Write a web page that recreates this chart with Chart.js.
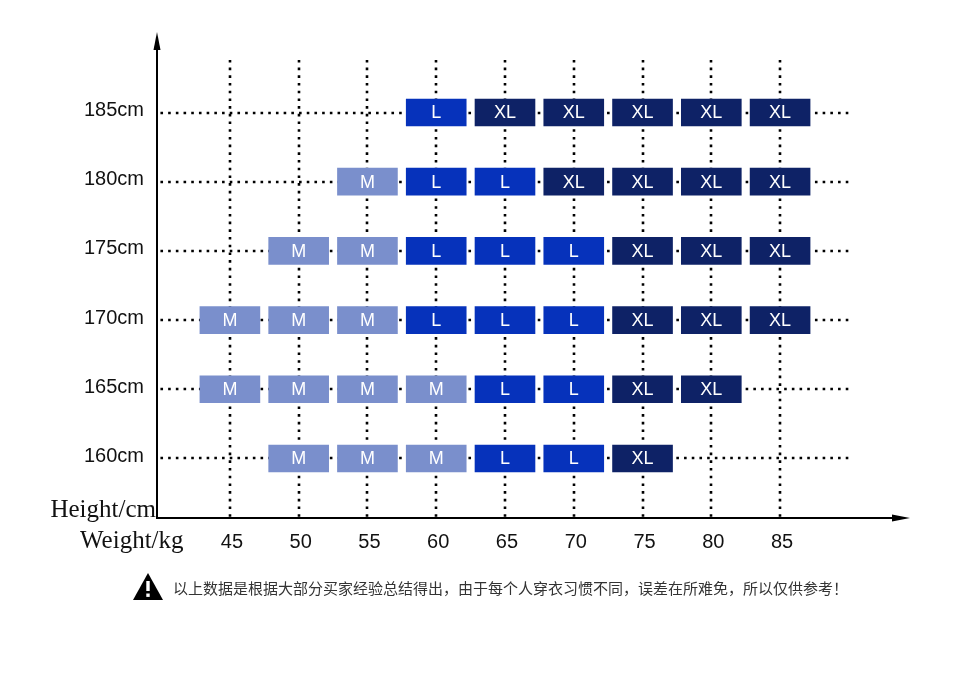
<!DOCTYPE html>
<html>
<head>
<meta charset="utf-8">
<script src="https://cdn.jsdelivr.net/npm/chart.js@4/dist/chart.umd.min.js"></script>
<style>
  html, body { margin: 0; padding: 0; background: #fff; }
  #wrap { width: 960px; height: 696px; }
</style>
</head>
<body>
<div id="wrap"><canvas id="chart" width="960" height="696"></canvas></div>
<script>
// weights (kg) along x, heights (cm) along y
const weights = [45, 50, 55, 60, 65, 70, 75, 80, 85];
const heights = [160, 165, 170, 175, 180, 185];

// size per weight column, one list per height row ('' = no box)
const row160 = ['',  'M', 'M', 'M', 'L', 'L', 'XL', '',   ''];
const row165 = ['M', 'M', 'M', 'M', 'L', 'L', 'XL', 'XL', ''];
const row170 = ['M', 'M', 'M', 'L', 'L', 'L', 'XL', 'XL', 'XL'];
const row175 = ['',  'M', 'M', 'L', 'L', 'L', 'XL', 'XL', 'XL'];
const row180 = ['',  '',  'M', 'L', 'L', 'XL', 'XL', 'XL', 'XL'];
const row185 = ['',  '',  '',  'L', 'XL', 'XL', 'XL', 'XL', 'XL'];
const rows = [row160, row165, row170, row175, row180, row185];

const sizes = ['M', 'L', 'XL'];
const sizeColors = ['#7a8fcc', '#0632bb', '#0e2266'];

const footNote = '以上数据是根据大部分买家经验总结得出，由于每个人穿衣习惯不同，误差在所难免，所以仅供参考！';

const HALF_BOX = 2.18; // half box width in kg units

function buildData(size) {
  const out = [];
  rows.forEach((row, r) => {
    row.forEach((s, c) => {
      if (s === size) out.push({ x: [weights[c] - HALF_BOX, weights[c] + HALF_BOX], y: heights[r] });
    });
  });
  return out;
}

const datasets = sizes.map((s, i) => ({
  label: s,
  data: buildData(s),
  backgroundColor: sizeColors[i],
  borderWidth: 0,
  barThickness: 27,
  grouped: false
}));

const dottedGrid = {
  id: 'dottedGrid',
  beforeDatasetsDraw(chart) {
    const { ctx, scales: { x, y }, chartArea } = chart;
    ctx.save();
    ctx.strokeStyle = '#000';
    ctx.lineWidth = 2.6;
    ctx.setLineDash([2.6, 5.1]);
    weights.forEach(w => {
      const px = Math.round(x.getPixelForValue(w));
      ctx.beginPath();
      ctx.moveTo(px, y.getPixelForValue(188.8));
      ctx.lineTo(px, chartArea.bottom);
      ctx.stroke();
    });
    heights.forEach(h => {
      const py = Math.round(y.getPixelForValue(h));
      ctx.beginPath();
      ctx.moveTo(x.getPixelForValue(39.95), py);
      ctx.lineTo(x.getPixelForValue(90), py);
      ctx.stroke();
    });
    ctx.restore();
  }
};

const boxLabels = {
  id: 'boxLabels',
  afterDatasetsDraw(chart) {
    const { ctx } = chart;
    ctx.save();
    ctx.fillStyle = '#fff';
    ctx.font = '18px "Liberation Sans", Arial, sans-serif';
    ctx.textAlign = 'center';
    ctx.textBaseline = 'middle';
    chart.data.datasets.forEach((ds, i) => {
      chart.getDatasetMeta(i).data.forEach(el => {
        const p = el.getCenterPoint();
        ctx.fillText(ds.label, p.x, p.y + 1);
      });
    });
    ctx.restore();
  }
};

const axesAndNotes = {
  id: 'axesAndNotes',
  afterDraw(chart) {
    const { ctx, chartArea: a } = chart;
    ctx.save();
    ctx.strokeStyle = '#000';
    ctx.fillStyle = '#000';
    ctx.lineWidth = 2;
    // y axis with arrow
    ctx.beginPath();
    ctx.moveTo(a.left, a.bottom);
    ctx.lineTo(a.left, a.top + 4);
    ctx.stroke();
    ctx.beginPath();
    ctx.moveTo(a.left, a.top - 3);
    ctx.lineTo(a.left - 3.5, a.top + 15);
    ctx.lineTo(a.left + 3.5, a.top + 15);
    ctx.closePath();
    ctx.fill();
    // x axis with arrow
    ctx.beginPath();
    ctx.moveTo(a.left - 1, a.bottom);
    ctx.lineTo(a.right - 4, a.bottom);
    ctx.stroke();
    ctx.beginPath();
    ctx.moveTo(a.right + 2, a.bottom);
    ctx.lineTo(a.right - 16, a.bottom - 3.5);
    ctx.lineTo(a.right - 16, a.bottom + 3.5);
    ctx.closePath();
    ctx.fill();

    // axis captions
    ctx.fillStyle = '#111';
    ctx.font = '25px "Liberation Serif", "DejaVu Serif", serif';
    ctx.textBaseline = 'alphabetic';
    ctx.textAlign = 'right';
    ctx.fillText('Height/cm', a.left - 1, a.bottom - 1);
    ctx.textAlign = 'left';
    ctx.fillText('Weight/kg', 80, 548);

    // warning note
    ctx.beginPath();
    ctx.moveTo(148, 573);
    ctx.lineTo(133, 600);
    ctx.lineTo(163, 600);
    ctx.closePath();
    ctx.fillStyle = '#000';
    ctx.fill();
    ctx.fillStyle = '#fff';
    ctx.fillRect(146.3, 581, 3.4, 10);
    ctx.fillRect(146.3, 593.5, 3.4, 3.4);
    ctx.fillStyle = '#333';
    ctx.font = '15px "Noto Sans CJK SC", sans-serif';
    ctx.textAlign = 'left';
    ctx.textBaseline = 'middle';
    ctx.fillText(footNote, 173, 588);
    ctx.restore();
  }
};

new Chart(document.getElementById('chart'), {
  type: 'bar',
  data: { datasets },
  options: {
    indexAxis: 'y',
    responsive: false,
    animation: false,
    devicePixelRatio: 1,
    layout: { padding: { left: 0, top: 35, right: 52, bottom: 138 } },
    plugins: { legend: { display: false }, tooltip: { enabled: false } },
    scales: {
      x: {
        type: 'linear',
        position: 'bottom',
        min: 39.7,
        max: 94.3,
        grid: { display: false, drawTicks: false },
        border: { display: false },
        afterBuildTicks: s => { s.ticks = weights.map(v => ({ value: v })); },
        afterFit: s => { s.height = 40; },
        ticks: {
          padding: 12,
          labelOffset: 2,
          color: '#111',
          font: { family: '"Liberation Sans", Arial, sans-serif', size: 20 },
          callback: v => String(v)
        }
      },
      y: {
        type: 'linear',
        offset: false,
        min: 155.7,
        max: 190.6,
        grid: { display: false, drawTicks: false },
        border: { display: false },
        afterBuildTicks: s => { s.ticks = heights.map(v => ({ value: v })); },
        afterFit: s => { s.width = 157; },
        ticks: {
          padding: 13,
          labelOffset: -2,
          color: '#111',
          font: { family: '"Liberation Sans", Arial, sans-serif', size: 20 },
          callback: v => v + 'cm'
        }
      }
    }
  },
  plugins: [dottedGrid, boxLabels, axesAndNotes]
});
</script>
</body>
</html>
